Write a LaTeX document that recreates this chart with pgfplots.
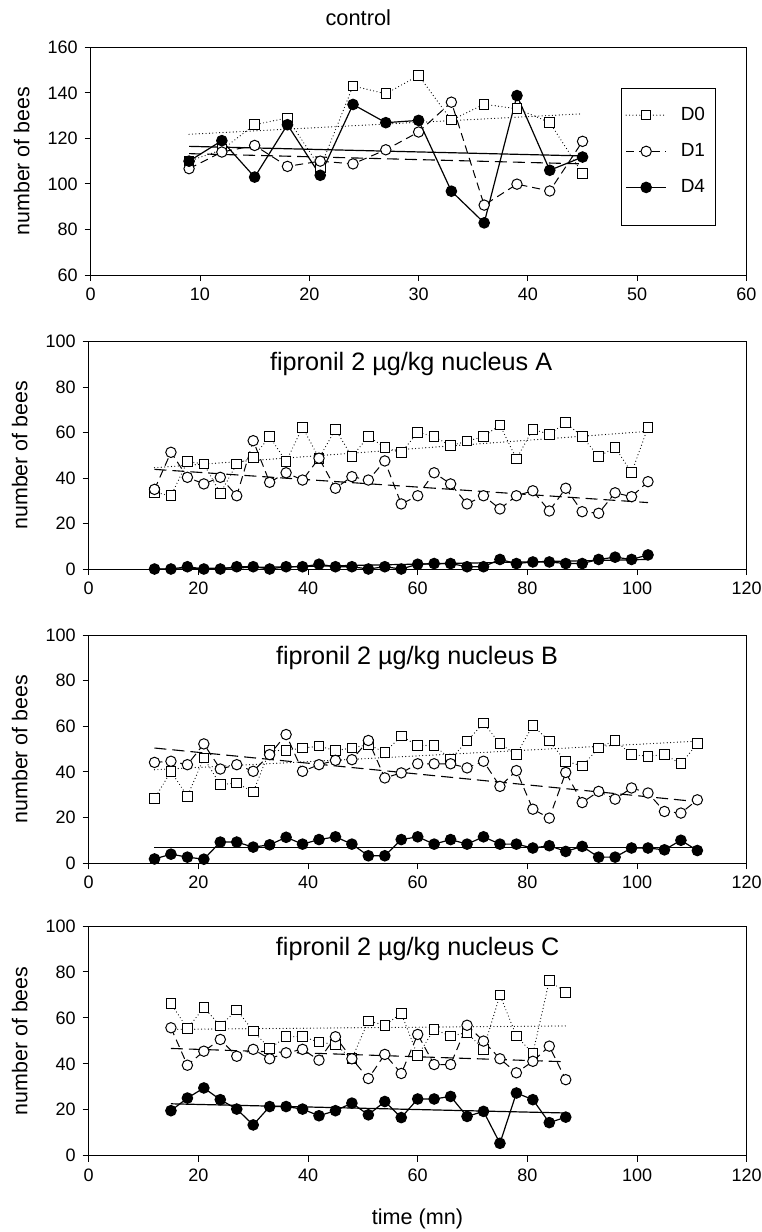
\documentclass[border=0pt]{standalone}
\usepackage{fontspec}
\setmainfont{Liberation Sans}
\usepackage{pgfplots}
\usepackage{pgfplotstable}
\pgfplotsset{compat=1.18}

% control colony: counts every 3 min
\pgfplotstableread{
t   d0    d1    d4
9   110   106.7 110
12  115   114   119
15  126   116.9 103
18  129   107.7 126
21  107   110   103.8
24  143   108.8 134.9
27  139.6 115   126.9
30  147.6 122.8 127.9
33  128   135.9 96.8
36  135   90.7  82.9
39  133   99.9  138.8
42  127   96.9  106
45  104.5 118.7 111.8
}\control

\pgfplotstableread{
t   d0   d1   d4
12  33.7 35   0
15  32.2 51.3 0
18  47.2 40.3 1
21  46.2 37.4 0
24  33.3 40.3 0
27  46.2 32.2 1
30  49.1 56.4 1
33  58.2 38.1 0
36  47.2 42.3 1
39  62.3 39.1 1
42  48.7 48.7 2.1
45  61.4 35.5 1
48  49.4 40.6 1
51  58.2 39.1 0
54  53.5 47.5 1
57  51.1 28.6 0
60  60.1 32.2 2.1
63  58.2 42.3 2.4
66  54.2 37.4 2.4
69  56.2 28.6 1
72  58.2 32.2 1
75  63.3 26.4 4.2
78  48.4 32.2 2.4
81  61.4 34.4 3.1
84  59.2 25.5 3.1
87  64.3 35.5 2.4
90  58.2 25.2 2.4
93  49.4 24.5 4.2
96  53.5 33.5 5.2
99  42.3 31.8 4.2
102 62.3 38.4 6.2
}\nucA

\pgfplotstableread{
t   d0   d1   d4
12  28.3 44.2 1.9
15  40.3 44.7 4
18  29.3 43.2 2.7
21  46.2 52.3 1.8
24  34.4 41.3 9.3
27  35.2 43.2 9.3
30  31.2 40.3 7.1
33  49.4 47.6 8.1
36  49.4 56.4 11.4
39  50.5 40.3 8.4
42  51.3 43.2 10.4
45  49.4 45.1 11.6
48  50.5 45.4 8.4
51  52   53.8 3.3
54  48.6 37.4 3.3
57  55.7 39.6 10.4
60  51.6 43.6 11.6
63  51.6 43.6 8.4
66  45.7 43.6 10.4
69  53.5 41.8 8.4
72  61.5 44.7 11.6
75  52.4 33.7 8.4
78  47.6 40.6 8.4
81  60.4 23.7 6.7
84  53.5 19.8 7.7
87  44.7 39.8 5.2
90  42.7 26.6 7.4
93  50.5 31.5 2.7
96  53.9 28.1 2.7
99  47.6 33   6.7
102 46.9 30.8 6.7
105 47.6 22.7 5.9
108 43.6 22   10.1
111 52.4 27.8 5.6
}\nucB

\pgfplotstableread{
t   d0   d1   d4
15  66.3 55.7 19.6
18  55.3 39.4 25.1
21  64.5 45.5 29.5
24  56.5 50.6 24.4
27  63.5 43.3 20.3
30  54.3 46.3 13.4
33  46.6 42.2 21.4
36  51.8 44.8 21.4
39  51.8 46.3 20.3
42  49.5 41.6 17.4
45  48.4 51.8 19.6
48  42.2 42.2 22.9
51  58.7 33.6 17.8
54  56.8 44.1 23.6
57  62   35.8 16.6
60  43.6 52.8 24.7
63  55   39.7 24.7
66  52.1 39.7 25.8
69  53.6 56.8 17.1
72  46.3 49.9 19.3
75  70   42.2 5.4
78  52.1 36.1 27.3
81  44.5 41.1 24.4
84  76.2 47.7 14.4
87  71   33.1 16.8
}\nucC

\pgfplotsset{
  bees/.style={
    scale only axis, anchor=south west,
    axis line style={line width=0.5pt},
    tick align=outside, tick pos=left, major tick length=3pt,
    every tick/.style={black, line width=0.5pt},
    ticklabel style={font=\fontsize{9}{10}\selectfont},
    /pgf/number format/assume math mode=true,
    every axis y label/.style={at={(rel axis cs:-0.105,0.5)}, rotate=90, anchor=center,
      font=\fontsize{10.7}{12}\selectfont},
    ylabel={number of bees},
    clip=false,
  },
  d0/.style={black, line width=0.6pt, line cap=round, dash pattern=on 0pt off 1.7pt,
    mark=square*, mark size=2.4pt, mark options={solid, fill=white, line width=0.5pt, line cap=butt}},
  d1/.style={black, line width=0.5pt, dash pattern=on 4pt off 2.5pt,
    mark=*, mark size=2.6pt, mark options={solid, fill=white}},
  d4/.style={black, line width=0.6pt, mark=*, mark size=2.6pt, mark options={solid, fill=black}},
  r0/.style={black, line width=0.6pt, line cap=round, dash pattern=on 0pt off 1.7pt, forget plot},
  r1/.style={black, line width=0.55pt, dash pattern=on 6pt off 3pt, forget plot},
  r4/.style={black, line width=0.6pt, forget plot},
  legend image code/.code={%
    \draw[mark repeat=2, mark phase=2, #1] plot coordinates {(0pt,0pt) (10pt,0pt) (20pt,0pt)};},
}

\newcommand{\ptitle}[2]{\node[font=\fontsize{12.6}{14}\selectfont] at (rel axis cs:#1,0.9) {#2};}

\begin{document}
\begin{tikzpicture}
\path[use as bounding box] (0pt,0pt) rectangle (380.5pt,-616pt);

% control
\begin{axis}[bees, at={(45.35pt,-137.5pt)}, width=327.9pt, height=113.85pt,
  xmin=0, xmax=60, ymin=60, ymax=160, xtick={0,10,...,60}, ytick={60,80,...,160},
  legend style={draw=none, fill=none, at={(rel axis cs:0.815,0.757)}, anchor=north west,
    font=\fontsize{9.5}{10}\selectfont, row sep=6pt, column sep=5pt,
    inner xsep=0pt, inner ysep=0pt},
  legend cell align=left]
  \addplot[r0] coordinates {(9,121.8) (45,130.8)};
  \addplot[r1] coordinates {(9,113.3) (45,108.8)};
  \addplot[r4] coordinates {(9,116.5) (45,112.3)};
  \addplot[d0] table[x=t, y=d0] {\control}; \addlegendentry{D0}
  \addplot[d1] table[x=t, y=d1] {\control}; \addlegendentry{D1}
  \addplot[d4] table[x=t, y=d4] {\control}; \addlegendentry{D4}
  \draw[line width=0.5pt] (rel axis cs:0.810,0.817) rectangle (rel axis cs:0.952,0.2196);
  \node[font=\fontsize{10.9}{12}\selectfont] at (rel axis cs:0.408,1.129) {control};
\end{axis}

% nucleus A
\begin{axis}[bees, at={(44.35pt,-284.5pt)}, width=329pt, height=113.75pt,
  xmin=0, xmax=120, ymin=0, ymax=100, xtick={0,20,...,120}, ytick={0,20,...,100}]
  \addplot[r0] coordinates {(12,44.5) (102,60.5)};
  \addplot[r1] coordinates {(12,43.8) (102,29.2)};
  \addplot[r4] coordinates {(12,-0.2) (102,4.2)};
  \addplot[d0] table[x=t, y=d0] {\nucA};
  \addplot[d1] table[x=t, y=d1] {\nucA};
  \addplot[d4] table[x=t, y=d4] {\nucA};
  \ptitle{0.49}{fipronil 2 µg/kg nucleus A}
\end{axis}

% nucleus B
\begin{axis}[bees, at={(44.35pt,-431.65pt)}, width=329pt, height=114.15pt,
  xmin=0, xmax=120, ymin=0, ymax=100, xtick={0,20,...,120}, ytick={0,20,...,100}]
  \addplot[r0] coordinates {(12,41) (111,53.5)};
  \addplot[r1] coordinates {(12,50.5) (111,27)};
  \addplot[r4] coordinates {(12,7) (111,7)};
  \addplot[d0] table[x=t, y=d0] {\nucB};
  \addplot[d1] table[x=t, y=d1] {\nucB};
  \addplot[d4] table[x=t, y=d4] {\nucB};
  \ptitle{0.499}{fipronil 2 µg/kg nucleus B}
\end{axis}

% nucleus C
\begin{axis}[bees, at={(44.35pt,-577.85pt)}, width=329pt, height=114.85pt,
  xmin=0, xmax=120, ymin=0, ymax=100, xtick={0,20,...,120}, ytick={0,20,...,100},
  xlabel={time (mn)},
  every axis x label/.style={at={(rel axis cs:0.4997,-0.2756)}, anchor=center,
    font=\fontsize{10.8}{12}\selectfont}]
  \addplot[r0] coordinates {(15,55) (87,56.5)};
  \addplot[r1] coordinates {(15,46.7) (87,40.9)};
  \addplot[r4] coordinates {(15,22.6) (87,18.6)};
  \addplot[d0] table[x=t, y=d0] {\nucC};
  \addplot[d1] table[x=t, y=d1] {\nucC};
  \addplot[d4] table[x=t, y=d4] {\nucC};
  \ptitle{0.5}{fipronil 2 µg/kg nucleus C}
\end{axis}
\end{tikzpicture}
\end{document}
